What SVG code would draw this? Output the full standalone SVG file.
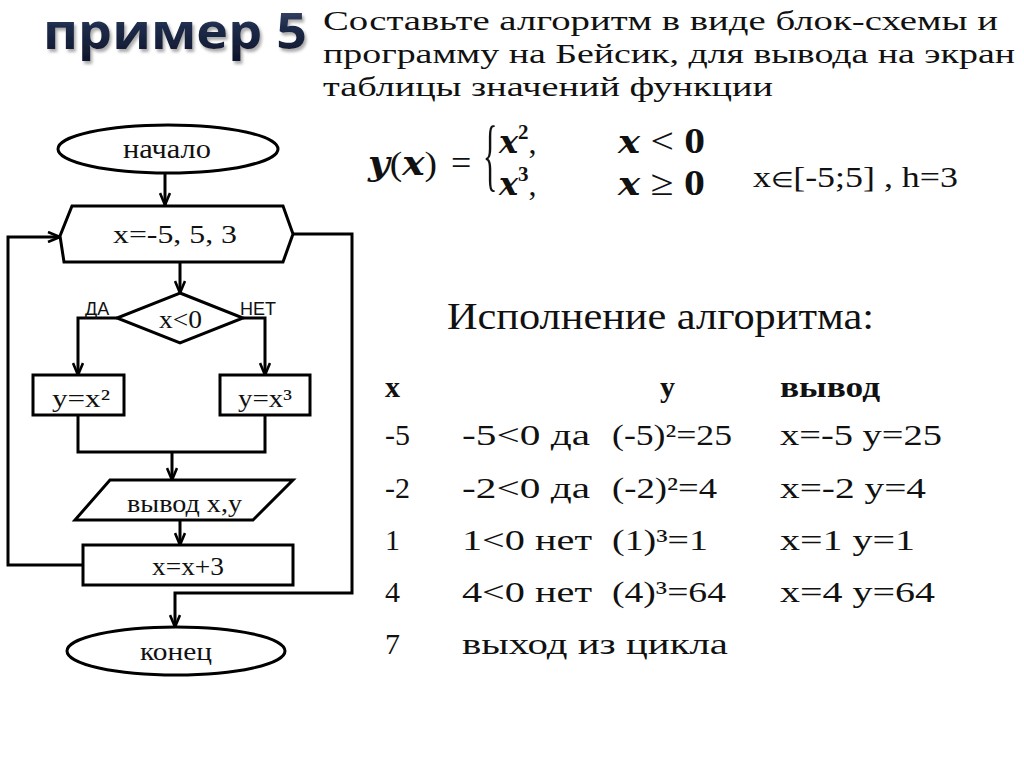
<svg xmlns="http://www.w3.org/2000/svg" width="1024" height="767" viewBox="0 0 1024 767">
<style>
.ser{font-family:"Liberation Serif","Times New Roman",serif;fill:#111}
.mth{font-family:"DejaVu Serif","Liberation Serif",serif;font-weight:bold;font-style:italic}
.shape{fill:#fff;stroke:#000;stroke-width:3}
.conn{fill:none;stroke:#000;stroke-width:3}
.lbl{font-family:"Liberation Sans",Arial,sans-serif;font-size:18px;fill:#111}
.fs{font-size:25px}
.tb{font-size:30px}
</style>
<defs>
<marker id="arr" viewBox="0 0 14 12" refX="13" refY="6" markerWidth="14" markerHeight="12" markerUnits="userSpaceOnUse" orient="auto">
<path d="M1,1 L13,6 L1,11" fill="none" stroke="#000" stroke-width="2.6"/>
</marker>
<linearGradient id="tg" x1="0" y1="0" x2="0" y2="1">
<stop offset="0" stop-color="#4a5a7c"/>
<stop offset="0.45" stop-color="#1e2b4a"/>
<stop offset="1" stop-color="#0c1428"/>
</linearGradient>
<filter id="sh" filterUnits="userSpaceOnUse" x="0" y="0" width="330" height="80">
<feDropShadow dx="2" dy="3" stdDeviation="1.5" flood-color="#888" flood-opacity="0.7"/>
</filter>
</defs>
<rect width="1024" height="767" fill="#fff"/>

<g id="title">
<text x="43" y="49" font-family="'Open Sans','DejaVu Sans',sans-serif" font-weight="bold" font-size="50" fill="url(#tg)" filter="url(#sh)" textLength="264" lengthAdjust="spacingAndGlyphs">пример 5</text>
</g>

<g id="task">
<text class="ser" x="323" y="30" font-size="28" textLength="675" lengthAdjust="spacingAndGlyphs">Составьте алгоритм в виде блок-схемы и</text>
<text class="ser" x="323" y="63" font-size="28" textLength="692" lengthAdjust="spacingAndGlyphs">программу на Бейсик, для вывода на экран</text>
<text class="ser" x="323" y="96" font-size="28" textLength="450" lengthAdjust="spacingAndGlyphs">таблицы значений функции</text>
</g>

<g id="formula">
<text class="ser" x="368" y="175" font-size="34" textLength="69" lengthAdjust="spacingAndGlyphs"><tspan class="mth">y</tspan>(<tspan class="mth">x</tspan>)</text>
<text class="ser" x="451" y="175" font-size="36">=</text>
<text class="ser" x="0" y="0" font-size="40" transform="translate(483,181) scale(0.75,2.0)">{</text>
<text class="ser" x="499" y="153" font-size="32"><tspan class="mth">x</tspan><tspan font-size="21" dy="-14" font-weight="bold">2</tspan><tspan dy="14">,</tspan></text>
<text class="ser" x="499" y="195" font-size="32"><tspan class="mth">x</tspan><tspan font-size="21" dy="-14" font-weight="bold">3</tspan><tspan dy="14">,</tspan></text>
<text class="ser" x="618" y="153" font-size="36" textLength="87" lengthAdjust="spacingAndGlyphs"><tspan class="mth" font-size="32">x</tspan> &lt; <tspan font-weight="bold">0</tspan></text>
<text class="ser" x="618" y="195" font-size="36" textLength="87" lengthAdjust="spacingAndGlyphs"><tspan class="mth" font-size="32">x</tspan> ≥ <tspan font-weight="bold">0</tspan></text>
<text class="ser" x="753" y="187" font-size="29" textLength="205" lengthAdjust="spacingAndGlyphs">x<tspan font-size="21">∈</tspan>[-5;5] ,  h=3</text>
</g>

<g id="connectors">
<path class="conn" d="M165,173 V205" marker-end="url(#arr)"/>
<path class="conn" d="M180,262 V293" marker-end="url(#arr)"/>
<path class="conn" d="M117,318 H78 V375" marker-end="url(#arr)"/>
<path class="conn" d="M243,318 H265 V375" marker-end="url(#arr)"/>
<path class="conn" d="M78,415 V452 H265 V415"/>
<path class="conn" d="M172,452 V480" marker-end="url(#arr)"/>
<path class="conn" d="M180,520 V545" marker-end="url(#arr)"/>
<path class="conn" d="M83,565 H8 V237 H60" marker-end="url(#arr)"/>
<path class="conn" d="M293,234 H352 V593 H175 V627" marker-end="url(#arr)"/>
</g>

<g id="start">
<ellipse class="shape" cx="168" cy="149" rx="110" ry="24"/>
<text class="ser" x="123" y="158" font-size="27" textLength="88" lengthAdjust="spacingAndGlyphs">начало</text>
</g>

<g id="loop">
<polygon class="shape" points="72,206 283,206 293,234 283,262 64,262 60,236"/>
<text class="ser fs" x="113" y="243" textLength="124" lengthAdjust="spacingAndGlyphs">x=-5,  5,  3</text>
</g>

<g id="cond">
<polygon class="shape" points="180,293 243,318 180,343 117,318"/>
<text class="ser" x="159" y="328" font-size="25" textLength="43" lengthAdjust="spacingAndGlyphs">x&lt;0</text>
<text class="lbl" x="85" y="315">ДА</text>
<text class="lbl" x="240" y="315">НЕТ</text>
</g>

<g id="sq">
<rect class="shape" x="33" y="375" width="91" height="40"/>
<text class="ser fs" x="52" y="407" textLength="58" lengthAdjust="spacingAndGlyphs">y=x²</text>
</g>

<g id="cube">
<rect class="shape" x="220" y="375" width="90" height="40"/>
<text class="ser fs" x="238" y="407" textLength="54" lengthAdjust="spacingAndGlyphs">y=x³</text>
</g>

<g id="output">
<polygon class="shape" points="110,480 293,480 253,520 75,520"/>
<text class="ser fs" x="127" y="512" textLength="115" lengthAdjust="spacingAndGlyphs">вывод x,y</text>
</g>

<g id="step">
<rect class="shape" x="83" y="545" width="210" height="40"/>
<text class="ser fs" x="152" y="575" textLength="72" lengthAdjust="spacingAndGlyphs">x=x+3</text>
</g>

<g id="end">
<ellipse class="shape" cx="176" cy="651" rx="109" ry="24"/>
<text class="ser fs" x="140" y="660" textLength="72" lengthAdjust="spacingAndGlyphs">конец</text>
</g>

<g id="trace">
<text class="ser" x="447" y="329" font-size="38" textLength="427" lengthAdjust="spacingAndGlyphs">Исполнение алгоритма:</text>
<text class="ser tb" x="385" y="397" font-weight="bold">x</text>
<text class="ser tb" x="660" y="397" font-weight="bold">y</text>
<text class="ser tb" x="780" y="397" font-weight="bold" textLength="100" lengthAdjust="spacingAndGlyphs">вывод</text>

<text class="ser tb" x="385" y="445">-5</text>
<text class="ser tb" x="462" y="445" textLength="128" lengthAdjust="spacingAndGlyphs">-5&lt;0 да</text>
<text class="ser tb" x="612" y="445" textLength="120" lengthAdjust="spacingAndGlyphs">(-5)²=25</text>
<text class="ser tb" x="780" y="445" textLength="162" lengthAdjust="spacingAndGlyphs">x=-5  y=25</text>

<text class="ser tb" x="385" y="498">-2</text>
<text class="ser tb" x="462" y="498" textLength="128" lengthAdjust="spacingAndGlyphs">-2&lt;0 да</text>
<text class="ser tb" x="612" y="498" textLength="105" lengthAdjust="spacingAndGlyphs">(-2)²=4</text>
<text class="ser tb" x="780" y="498" textLength="146" lengthAdjust="spacingAndGlyphs">x=-2  y=4</text>

<text class="ser tb" x="385" y="550">1</text>
<text class="ser tb" x="462" y="550" textLength="130" lengthAdjust="spacingAndGlyphs">1&lt;0 нет</text>
<text class="ser tb" x="612" y="550" textLength="96" lengthAdjust="spacingAndGlyphs">(1)³=1</text>
<text class="ser tb" x="780" y="550" textLength="135" lengthAdjust="spacingAndGlyphs">x=1  y=1</text>

<text class="ser tb" x="385" y="602">4</text>
<text class="ser tb" x="462" y="602" textLength="130" lengthAdjust="spacingAndGlyphs">4&lt;0 нет</text>
<text class="ser tb" x="612" y="602" textLength="114" lengthAdjust="spacingAndGlyphs">(4)³=64</text>
<text class="ser tb" x="780" y="602" textLength="155" lengthAdjust="spacingAndGlyphs">x=4  y=64</text>

<text class="ser tb" x="385" y="654">7</text>
<text class="ser tb" x="462" y="654" textLength="266" lengthAdjust="spacingAndGlyphs">выход из цикла</text>
</g>
</svg>
